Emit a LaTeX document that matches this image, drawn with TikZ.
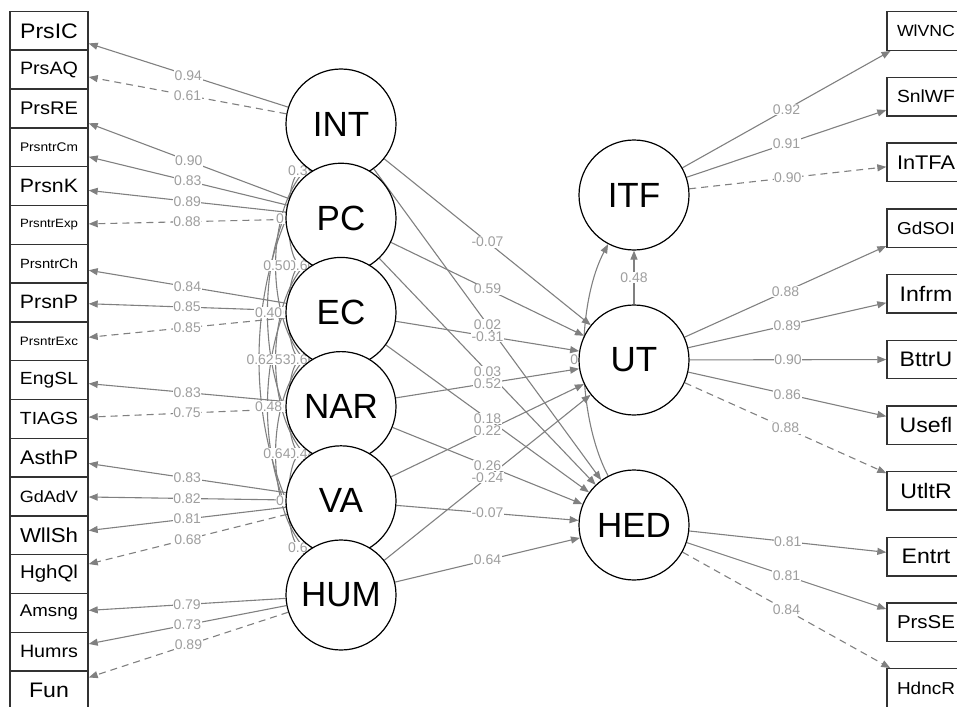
\documentclass[tikz,border=0pt]{standalone}
\usepackage{fontspec}
\setmainfont{Liberation Sans}
\usepackage{graphicx}
\usetikzlibrary{arrows.meta}

\definecolor{edgecol}{RGB}{128,128,128}
\definecolor{labcol}{RGB}{158,158,158}
\definecolor{boxcol}{RGB}{50,50,50}

\pgfdeclarelayer{edges}
\pgfdeclarelayer{labels}
\pgfsetlayers{edges,labels,main}

% indicator labels: slightly widened type, shrunk to the box width when needed
\newcommand\fitlbl[1]{%
  \sbox0{\fontsize{21}{21}\selectfont #1}%
  \ifdim 1.1\wd0>58pt\relax
    \pgfmathsetmacro\hsc{58/\wd0}%
    \pgfmathsetmacro\vsc{\hsc/1.1}%
    \scalebox{\hsc}[\vsc]{\usebox0}%
  \else
    \scalebox{1.1}[1]{\usebox0}%
  \fi}

\tikzset{
  latent/.style={circle, draw=black, line width=1.2pt, fill=white,
    minimum size=110pt, inner sep=0pt, font=\fontsize{35}{35}\selectfont},
  manifest/.style={rectangle, draw=boxcol, line width=1.4pt, fill=white,
    minimum width=78pt, minimum height=38.8pt, inner sep=0pt},
  ld/.style={draw=edgecol, line width=1.1pt, -{Triangle[length=9pt,width=7pt]}},
  ldfix/.style={ld, dash pattern=on 7pt off 5pt},
  cov/.style={draw=edgecol, line width=1.1pt,
    {Triangle[length=9pt,width=7pt]}-{Triangle[length=9pt,width=7pt]}},
  lab/.style={fill=white, inner sep=0.6pt, text=labcol,
    font=\fontsize{14}{14}\selectfont},
}

% factor loadings: factor / indicator / estimate
\def\loadings{INT/PrsIC/0.94, PC/PrsRE/0.90, PC/PrsntrCm/0.83,
  PC/PrsnK/0.89, EC/PrsntrCh/0.84, EC/PrsnP/0.85, NAR/EngSL/0.83,
  VA/AsthP/0.83, VA/GdAdV/0.82, VA/WllSh/0.81, HUM/Amsng/0.79, HUM/Humrs/0.73,
  ITF/WlVNC/0.92, ITF/SnlWF/0.91, UT/GdSOI/0.88, UT/Infrm/0.89, UT/BttrU/0.90,
  UT/Usefl/0.86, HED/Entrt/0.81, HED/PrsSE/0.81}
% fixed (reference) loadings
\def\fixedloadings{INT/PrsAQ/0.61, PC/PrsntrExp/0.88, EC/PrsntrExc/0.85,
  NAR/TIAGS/0.75, VA/HghQl/0.68, HUM/Fun/0.89, ITF/InTFA/0.90,
  UT/UtltR/0.88, HED/HdncR/0.84}
% regressions among factors
\def\regressions{INT/UT/-0.07, PC/UT/0.59, INT/HED/0.02, EC/UT/-0.31,
  PC/HED/0.03, NAR/UT/0.52, EC/HED/0.18, VA/UT/0.22, NAR/HED/0.26,
  HUM/UT/-0.24, VA/HED/-0.07, HUM/HED/0.64, UT/ITF/0.48}
% covariances: from / to / bulge / control height / estimate
\def\covariances{INT/PC/38/31.4/0.39, PC/EC/38/31.4/0.60,
  EC/NAR/38/31.4/0.66, NAR/VA/38/31.4/0.48, VA/HUM/38/31.4/0.63,
  INT/EC/56/62.8/0.45, PC/NAR/56/62.8/0.43, EC/VA/56/62.8/0.41,
  NAR/HUM/56/62.8/0.42, INT/NAR/74/94.2/0.50, PC/VA/74/94.2/0.53,
  EC/HUM/74/94.2/0.64, INT/VA/86/125.6/0.40, PC/HUM/86/125.6/0.48,
  INT/HUM/98/157/0.62}

\begin{document}
\begin{tikzpicture}[x=1pt,y=-1pt]
\useasboundingbox (0,0) rectangle (957,706);

% observed indicators, left column
\foreach \n [count=\i from 0] in {PrsIC,PrsAQ,PrsRE,PrsntrCm,PrsnK,PrsntrExp,
  PrsntrCh,PrsnP,PrsntrExc,EngSL,TIAGS,AsthP,GdAdV,WllSh,HghQl,Amsng,Humrs,Fun}
  \node[manifest] (\n) at (49,{30.8+38.8*\i}) {\fitlbl{\n}};

% observed indicators, right column
\foreach \n [count=\i from 0] in {WlVNC,SnlWF,InTFA,GdSOI,Infrm,BttrU,Usefl,
  UtltR,Entrt,PrsSE,HdncR}
  \node[manifest, minimum height=38.5pt] (\n) at (926,{31+65.7*\i}) {\fitlbl{\n}};

% exogenous factors
\foreach \n [count=\i from 0] in {INT,PC,EC,NAR,VA,HUM}
  \node[latent] (\n) at (341,{124+94.2*\i}) {\n};

% endogenous factors
\node[latent] (ITF) at (634,195) {ITF};
\node[latent] (UT)  at (634,360) {UT};
\node[latent] (HED) at (634,525) {HED};

% connectors
\begin{pgfonlayer}{edges}
\foreach \f/\m/\v in \loadings \draw[ld] (\f) -- (\m);
\foreach \f/\m/\v in \fixedloadings \draw[ldfix] (\f) -- (\m);
\foreach \f/\t/\v in \regressions \draw[ld] (\f) -- (\t);
\draw[ld] (HED) .. controls +(-58,-110) and +(-58,110) .. (ITF);
\foreach \s/\t/\a/\h/\v in \covariances
  \draw[cov] (\s) .. controls +(-\a,\h) and +(-\a,-\h) .. (\t);
\end{pgfonlayer}

% estimates, set over all connectors
\begin{pgfonlayer}{labels}
\foreach \f/\m/\v in \loadings \path (\f) -- (\m) node[lab, midway] {\v};
\foreach \f/\m/\v in \fixedloadings \path (\f) -- (\m) node[lab, midway] {\v};
\foreach \f/\t/\v in \regressions \path (\f) -- (\t) node[lab, midway] {\v};
\path (HED) .. controls +(-58,-110) and +(-58,110) .. (ITF)
  node[lab, pos=0.5] {0.05};
\foreach \s/\t/\a/\h/\v in \covariances
  \path (\s) .. controls +(-\a,\h) and +(-\a,-\h) .. (\t)
    node[lab, pos=0.5] {\v};
\end{pgfonlayer}
\end{tikzpicture}
\end{document}
